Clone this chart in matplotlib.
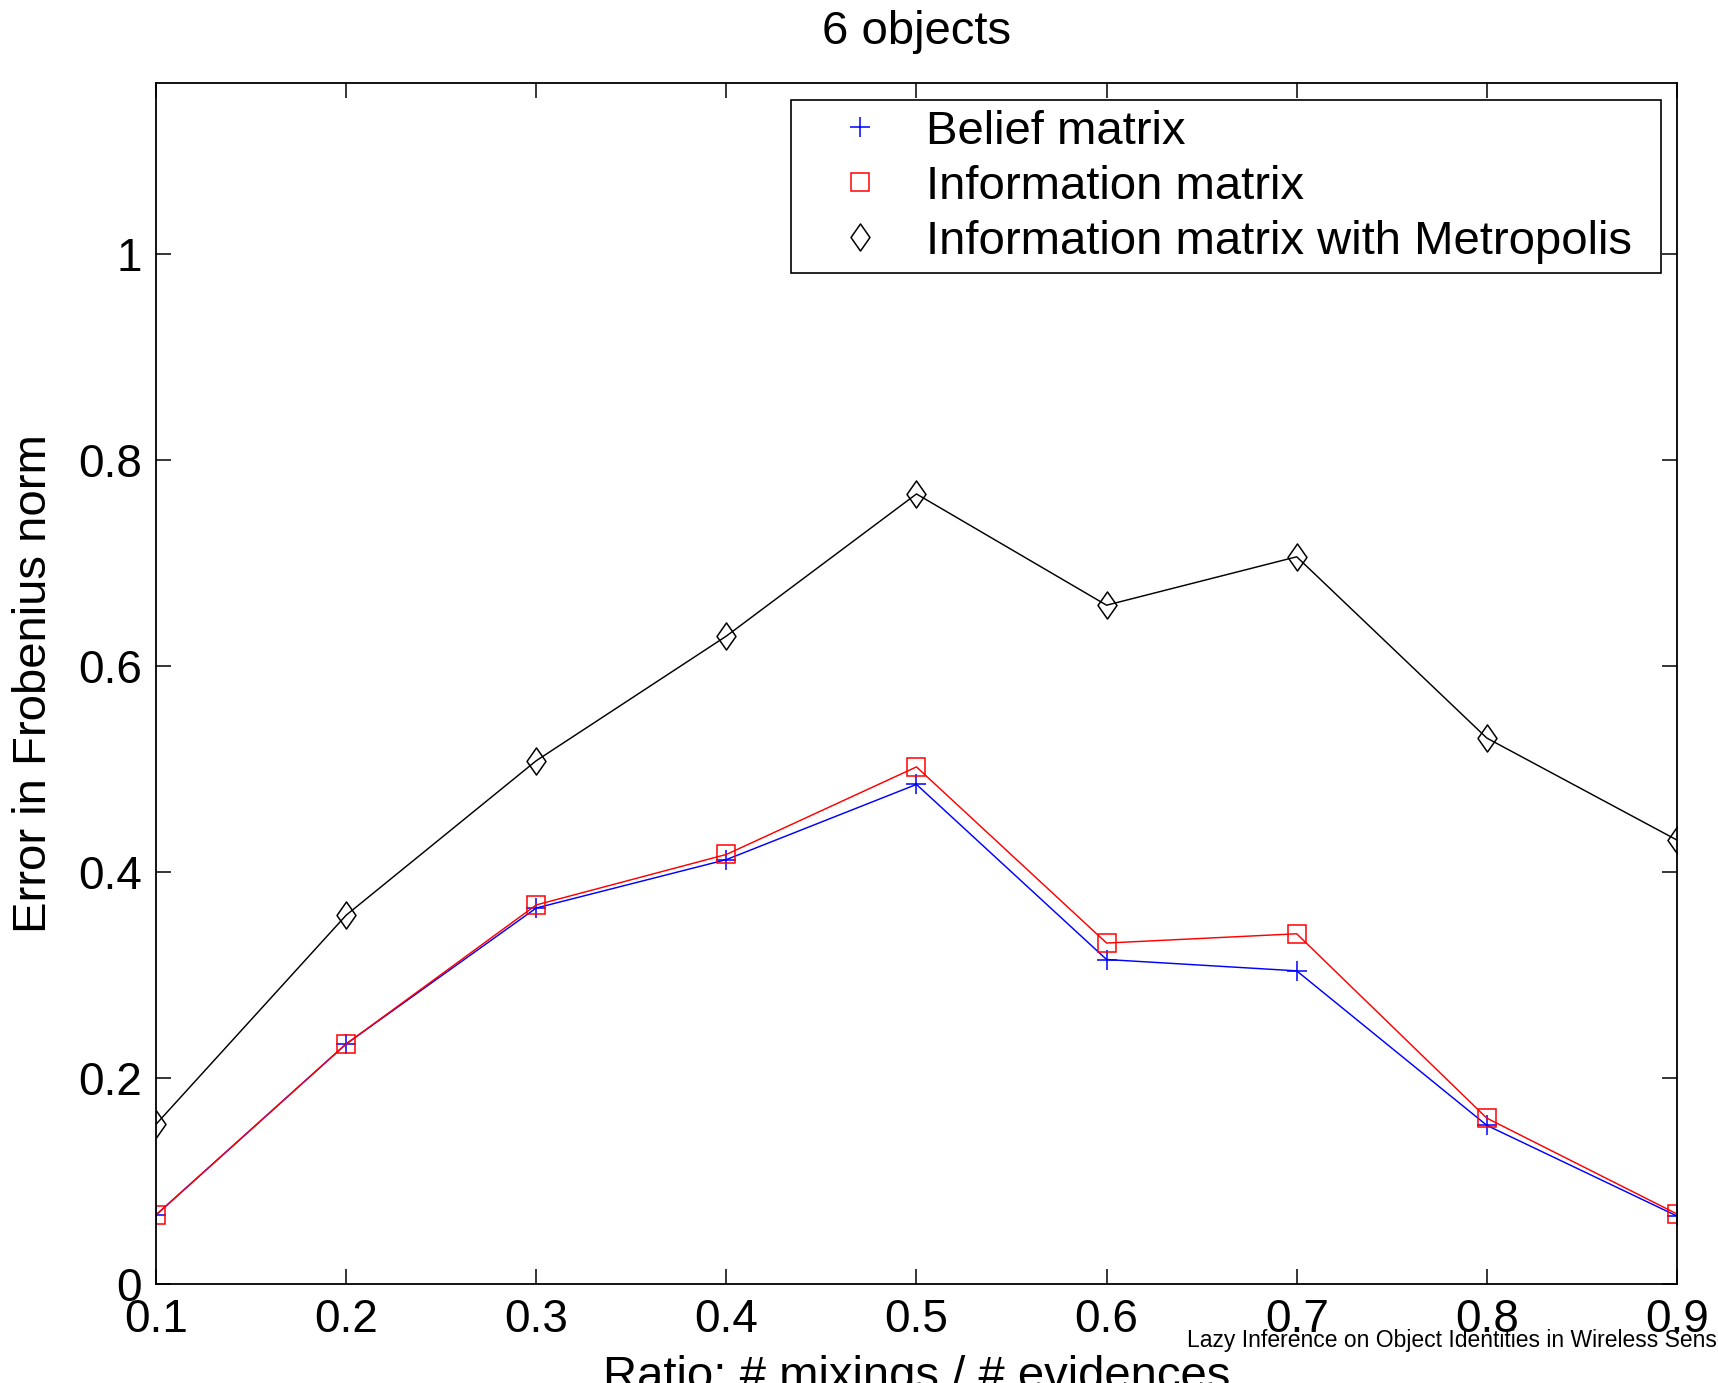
import numpy as np
import matplotlib
matplotlib.use('Agg')
from matplotlib import pyplot as plt
from matplotlib.lines import Line2D
from matplotlib.patches import Rectangle
from matplotlib.path import Path

plt.rcParams['font.family'] = ['Liberation Sans', 'DejaVu Sans']

# ratio of mixings to evidences
ratio = [0.1, 0.2, 0.3, 0.4, 0.5, 0.6, 0.7, 0.8, 0.9]

# error in Frobenius norm
belief = [0.067, 0.233, 0.365, 0.412, 0.485, 0.315, 0.304, 0.154, 0.066]
info = [0.067, 0.233, 0.368, 0.417, 0.502, 0.331, 0.340, 0.161, 0.068]
metro = [0.155, 0.358, 0.508, 0.629, 0.767, 0.659, 0.706, 0.530, 0.431]

labels = ['Belief matrix', 'Information matrix', 'Information matrix with Metropolis']
yticks = [0, 0.2, 0.4, 0.6, 0.8, 1.0]
yticklabels = ['0', '0.2', '0.4', '0.6', '0.8', '1']
xticklabels = ['0.1', '0.2', '0.3', '0.4', '0.5', '0.6', '0.7', '0.8', '0.9']

# tall diamond like the matlab one
diamond = Path([(0, 1), (0.7, 0), (0, -1), (-0.7, 0), (0, 1)],
               [Path.MOVETO, Path.LINETO, Path.LINETO, Path.LINETO, Path.CLOSEPOLY])

fig = plt.figure(figsize=(17.18, 13.83), dpi=100)
ax = fig.add_axes([0.0908, 0.0716, 0.9761 - 0.0908, 0.9400 - 0.0716])

ax.plot(ratio, belief, color='#0000ff', lw=1.05, marker='+', ms=14, mew=1.1)
ax.plot(ratio, info, color='#ff0000', lw=1.05, marker='s', ms=12.5, mew=1.1,
        mfc='none', mec='#ff0000')
ax.plot(ratio, metro, color='black', lw=1.05, marker=diamond, ms=19.5, mew=1.1,
        mfc='none', mec='black')

ax.set_xlim(0.1, 0.9)
ax.set_ylim(0, 1.166)
ax.set_xticks(ratio)
ax.set_xticklabels(xticklabels)
ax.set_yticks(yticks)
ax.set_yticklabels(yticklabels)
ax.tick_params(direction='in', length=11, width=1.1, labelsize=33, pad=10,
               top=True, right=True, colors='black')
for s in ax.spines.values():
    s.set_linewidth(1.3)

ax.set_title('6 objects', fontsize=34, pad=28)
ax.set_xlabel('Ratio: # mixings / # evidences', fontsize=34)
ax.xaxis.set_label_coords(0.5, -0.059)
ax.xaxis.label.set_va('top')
ax.set_ylabel('Error in Frobenius norm', fontsize=34)
ax.yaxis.set_label_coords(-0.066, 0.5)

# legend box drawn separately so it can be a bit wider than the text
box_x0, box_x1 = 0.4175, 0.9895
box_y0, box_y1 = 0.8418, 0.9858
ax.add_patch(Rectangle((box_x0, box_y0), box_x1 - box_x0, box_y1 - box_y0,
                       transform=ax.transAxes, facecolor='white', edgecolor='black',
                       lw=1.2, zorder=4))

handles = [
    Line2D([], [], ls='none', marker='+', color='#0000ff', ms=14, mew=1.1),
    Line2D([], [], ls='none', marker='s', mfc='none', mec='#ff0000', ms=12.5, mew=1.1),
    Line2D([], [], ls='none', marker=diamond, mfc='none', mec='black', ms=19.5, mew=1.1),
]
leg = ax.legend(handles, labels, loc='upper left', bbox_to_anchor=(box_x0, box_y1),
                borderaxespad=0, fontsize=34, frameon=False, borderpad=0.21,
                labelspacing=0.23, handlelength=2.5, handletextpad=0.15, numpoints=1)
leg.set_zorder(5)

fig.text(1187 / 1718, 1 - 1347 / 1383,
         'Lazy Inference on Object Identities in Wireless Sensor Networks',
         fontsize=16.5, ha='left', va='baseline', zorder=10)

fig.savefig('out.png', dpi=100)
